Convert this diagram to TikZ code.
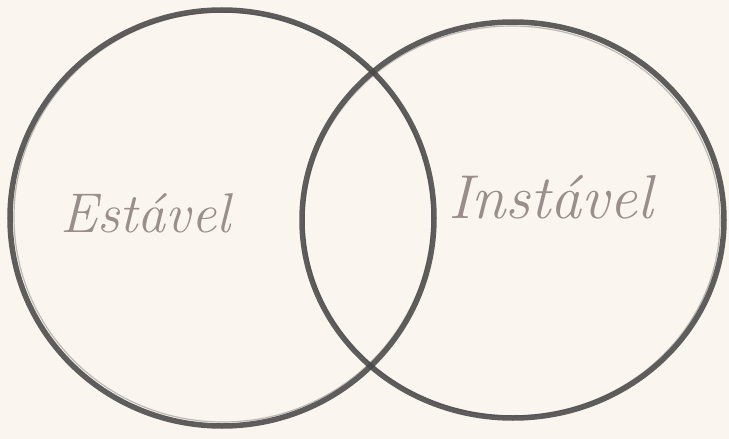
\documentclass[tikz,border=0pt]{standalone}
\usepackage{fontspec}
\definecolor{paper}{HTML}{FAF6EF}
\definecolor{pencil}{HTML}{4A4848}
\definecolor{ink}{HTML}{9A8E8C}
\tikzset{
  ring/.style={draw=pencil, line width=5.5pt, opacity=0.88},
  ringsoft/.style={draw=pencil, line width=1.2pt, opacity=0.35},
  label/.style={text=ink, inner sep=0pt, anchor=base west}
}
\begin{document}
\begin{tikzpicture}[x=1pt,y=-1pt]
\fill[paper] (0,0) rectangle (729,439);
\useasboundingbox (0,0) rectangle (729,439);
% left circle
\draw[ring] (222,218) ellipse [x radius=212, y radius=208];
\draw[ringsoft] (223,217) ellipse [x radius=209, y radius=205];
% right circle
\draw[ring] (513,220) ellipse [x radius=211, y radius=198];
\draw[ringsoft] (512,221) ellipse [x radius=208, y radius=195];
% labels
\node[label, font=\fontsize{56}{56}\selectfont\itshape] (est) at (60,232) {Estável};
\node[label, font=\fontsize{62}{62}\selectfont\itshape] (inst) at (448,218) {Instável};
\end{tikzpicture}
\end{document}
